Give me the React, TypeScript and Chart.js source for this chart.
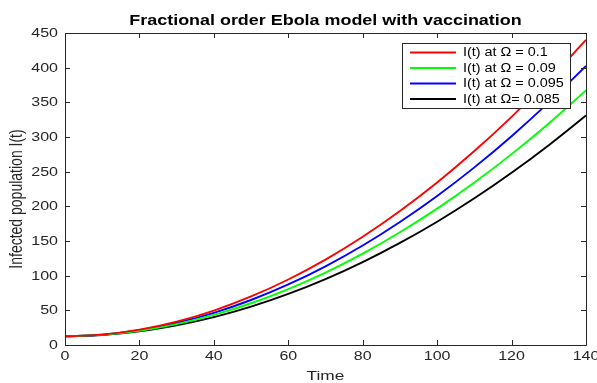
import React, { useEffect, useRef } from "react";
import { Chart, registerables } from "chart.js";

Chart.register(...registerables);

const times = [0, 10, 20, 30, 40, 50, 60, 70, 80, 90, 100, 110, 120, 130, 140];
const red01 = [12.5, 15.0, 22.1, 33.7, 49.7, 70.0, 94.5, 123.2, 156.1, 193.3, 234.4, 279.7, 329.1, 382.5, 440.0];
const green009 = [12.5, 14.6, 20.5, 30.1, 43.4, 60.2, 80.6, 104.4, 131.7, 162.6, 196.7, 234.3, 275.3, 319.6, 367.3];
const blue0095 = [12.5, 14.8, 21.3, 31.8, 46.4, 64.9, 87.3, 113.5, 143.5, 177.4, 214.9, 256.2, 301.2, 349.9, 402.5];
const black0085 = [12.5, 14.4, 19.7, 28.3, 40.2, 55.3, 73.6, 95.0, 119.5, 147.2, 177.8, 211.6, 248.4, 288.2, 331.0];

const seriesLabels = ["I(t) at \u03a9 = 0.1", "I(t) at \u03a9 = 0.09", "I(t) at \u03a9 = 0.095", "I(t) at \u03a9= 0.085"];
const seriesColors = ["#ff0000", "#00ff00", "#0000ff", "#000000"];
const xTicks = [0, 20, 40, 60, 80, 100, 120, 140];
const yTicks = [0, 50, 100, 150, 200, 250, 300, 350, 400, 450];
const titleText = "Fractional order Ebola model with vaccination";
const xTitle = "Time";
const yTitle = "Infected population I(t)";

const FONT = "'Liberation Sans', Arial, Helvetica, sans-serif";
const AXIS = "#262626";
const SX = 1.28;

function stretchedText(
  ctx: CanvasRenderingContext2D,
  text: string,
  x: number,
  y: number,
  font: string,
  align: CanvasTextAlign,
  baseline: CanvasTextBaseline,
  color: string,
  sx: number,
  rotate = 0
) {
  ctx.save();
  ctx.translate(x, y);
  ctx.scale(sx, 1);
  if (rotate) ctx.rotate(rotate);
  ctx.font = font;
  ctx.textAlign = align;
  ctx.textBaseline = baseline;
  ctx.fillStyle = color;
  ctx.fillText(text, 0, 0);
  ctx.restore();
}

const framePlugin = {
  id: "matlabFrame",
  afterDatasetsDraw(chart: any) {
    const ctx = chart.ctx;
    const { left, right, top, bottom } = chart.chartArea;
    const xs = chart.scales.x;
    const ys = chart.scales.y;
    ctx.save();
    ctx.strokeStyle = AXIS;
    ctx.lineWidth = 1;
    ctx.beginPath();
    ctx.rect(Math.round(left) + 0.5, Math.round(top) + 0.5, Math.round(right - left), Math.round(bottom - top));
    ctx.stroke();
    const tl = 5;
    ctx.beginPath();
    xTicks.forEach((v) => {
      const px = Math.round(xs.getPixelForValue(v)) + 0.5;
      ctx.moveTo(px, bottom);
      ctx.lineTo(px, bottom - tl);
      ctx.moveTo(px, top);
      ctx.lineTo(px, top + tl);
    });
    yTicks.forEach((v) => {
      const py = Math.round(ys.getPixelForValue(v)) + 0.5;
      ctx.moveTo(left, py);
      ctx.lineTo(left + tl, py);
      ctx.moveTo(right, py);
      ctx.lineTo(right - tl, py);
    });
    ctx.stroke();

    // tick labels
    const tickFont = `12.5px ${FONT}`;
    xTicks.forEach((v) => {
      stretchedText(ctx, String(v), xs.getPixelForValue(v), 357, tickFont, "center", "middle", AXIS, SX);
    });
    yTicks.forEach((v) => {
      stretchedText(ctx, String(v), 58, ys.getPixelForValue(v) + 0.5, tickFont, "right", "middle", AXIS, SX);
    });

    // axis titles
    stretchedText(ctx, xTitle, (left + right) / 2, 376, `13.5px ${FONT}`, "center", "middle", AXIS, SX);
    stretchedText(ctx, yTitle, 17, 199, `14px ${FONT}`, "center", "middle", AXIS, SX, -Math.PI / 2);

    // legend
    const bx = 402, by = 43, bw = 168, bh = 65;
    ctx.fillStyle = "#ffffff";
    ctx.fillRect(bx, by, bw, bh);
    ctx.strokeStyle = AXIS;
    ctx.lineWidth = 1;
    ctx.strokeRect(bx + 0.5, by + 0.5, bw, bh);
    chart.data.datasets.forEach((ds: any, i: number) => {
      const y = by + 9.5 + i * 15.5;
      ctx.strokeStyle = ds.borderColor;
      ctx.lineWidth = 2;
      ctx.beginPath();
      ctx.moveTo(410, y);
      ctx.lineTo(456, y);
      ctx.stroke();
      stretchedText(ctx, ds.label, 463, y + 0.5, `12px ${FONT}`, "left", "middle", "#000000", 1.2);
    });

    // title
    stretchedText(ctx, titleText, (left + right) / 2, 25, `bold 14px ${FONT}`, "center", "alphabetic", "#000000", SX);
    ctx.restore();
  },
};

export default function App() {
  const ref = useRef<HTMLCanvasElement | null>(null);
  useEffect(() => {
    if (!ref.current) return;
    const datasetsSrc = [red01, green009, blue0095, black0085];
    const chart = new Chart(ref.current, {
      type: "line",
      data: {
        datasets: datasetsSrc.map((arr, i) => ({
          label: seriesLabels[i],
          data: arr.map((v, j) => ({ x: times[j], y: v })),
          borderColor: seriesColors[i],
          backgroundColor: seriesColors[i],
          borderWidth: 1.9,
          pointRadius: 0,
          cubicInterpolationMode: "monotone" as const,
          fill: false,
        })),
      },
      options: {
        animation: false,
        responsive: false,
        events: [],
        layout: { padding: { top: 33, right: 11, left: 0, bottom: 0 } },
        plugins: { legend: { display: false }, title: { display: false }, tooltip: { enabled: false } },
        scales: {
          x: {
            type: "linear",
            min: 0,
            max: 140,
            grid: { display: false, drawTicks: false },
            border: { display: false },
            ticks: { display: false },
            afterBuildTicks: (s: any) => { s.ticks = xTicks.map((v) => ({ value: v })); },
            afterFit: (s: any) => { s.height = 38; s.paddingLeft = 0; s.paddingRight = 0; },
          },
          y: {
            type: "linear",
            min: 0,
            max: 450,
            grid: { display: false, drawTicks: false },
            border: { display: false },
            ticks: { display: false },
            afterBuildTicks: (s: any) => { s.ticks = yTicks.map((v) => ({ value: v })); },
            afterFit: (s: any) => { s.width = 65; s.paddingTop = 0; s.paddingBottom = 0; },
          },
        },
      },
      plugins: [framePlugin],
    });
    return () => chart.destroy();
  }, []);
  return (
    <div style={{ position: "fixed", left: 0, top: 0, width: 597, height: 383, background: "#fff" }}>
      <canvas ref={ref} width={597} height={383} style={{ width: 597, height: 383, display: "block" }} />
    </div>
  );
}
